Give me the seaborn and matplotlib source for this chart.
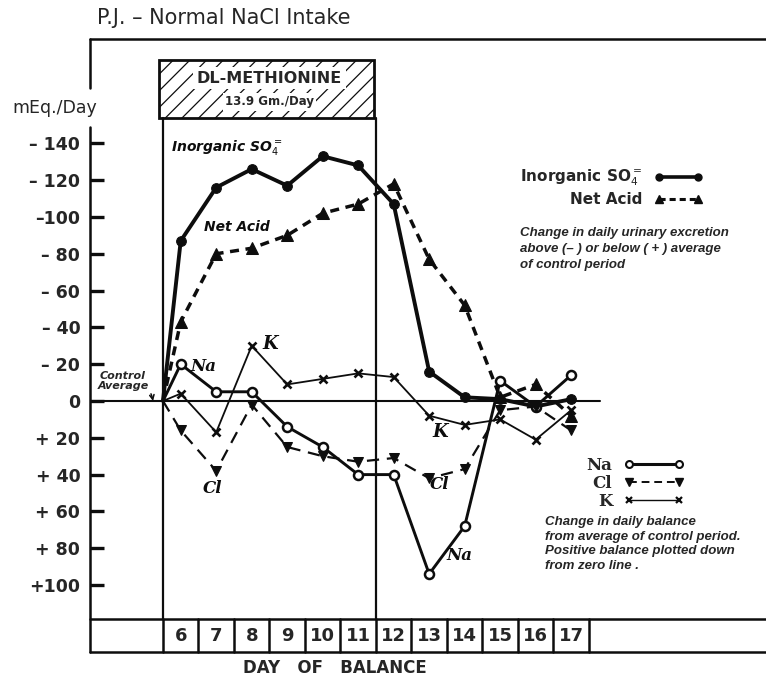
"""Recreation of the 'P.J. - Normal NaCl Intake' methionine balance chart."""

import matplotlib
matplotlib.use("Agg")
import matplotlib.pyplot as plt
import seaborn as sns
from matplotlib.lines import Line2D
from matplotlib.patches import Rectangle

# day 5.5 is the control-average starting point (left edge of day 6)
days = [5.5, 6, 7, 8, 9, 10, 11, 12, 13, 14, 15, 16, 17]
table_days = [6, 7, 8, 9, 10, 11, 12, 13, 14, 15, 16, 17]

# urinary excretion change: negative = above control average (plotted up)
so4 = [0, -87, -116, -126, -117, -133, -128, -107, -16, -2, -1, 3, -1]
net_acid = [0, -43, -80, -83, -90, -102, -107, -118, -77, -52, -2, -9, 8]

# balance change: positive balance plotted down
na = [0, -20, -5, -5, 14, 25, 40, 40, 94, 68, -11, 3, -14]
cl = [0, 16, 38, 2, 25, 30, 33, 31, 42, 37, 5, 3, 16]
k = [0, -4, 17, -30, -9, -12, -15, -13, 8, 13, 10, 21, 5]

ytick_vals = [-140, -120, -100, -80, -60, -40, -20, 0, 20, 40, 60, 80, 100]
ytick_labels = ["\u2013 140", "\u2013 120", "\u2013100", "\u2013 80", "\u2013 60",
                "\u2013 40", "\u2013 20", "0", "+ 20", "+ 40", "+ 60", "+ 80", "+100"]

XMIN, XMAX = 3.444, 22.49
YTOP, YBOT = -196.7, 136.4
TABLE_TOP = 118.5
DRUG_START, DRUG_END = 5.5, 11.5
BOX_TOP, BOX_BOT = -185.3, -153.8

sns.set_style("white")
plt.rcParams["font.family"] = ["DejaVu Sans"]
plt.rcParams["hatch.linewidth"] = 0.9

fig = plt.figure(figsize=(7.66, 6.79), dpi=100)
ax = fig.add_axes([90 / 766, 1 - 652 / 679, 676 / 766, 613 / 679])
ax.set_xlim(XMIN, XMAX)
ax.set_ylim(YBOT, YTOP)
for s in ax.spines.values():
    s.set_visible(False)

BLACK = "#0d0d0d"
skip_origin = list(range(1, len(days)))

# --- series ---
sns.lineplot(x=days, y=so4, ax=ax, color=BLACK, lw=2.8, marker="o", ms=7,
             markeredgecolor=BLACK, markevery=skip_origin)
sns.lineplot(x=days, y=net_acid, ax=ax, color=BLACK, lw=2.5, ls=(0, (2.6, 1.9)),
             marker="^", ms=8, markeredgecolor=BLACK, markevery=skip_origin)
sns.lineplot(x=days, y=na, ax=ax, color=BLACK, lw=2.1, marker="o", ms=6.5,
             markerfacecolor="white", markeredgecolor=BLACK, markeredgewidth=1.8,
             markevery=skip_origin)
sns.lineplot(x=days, y=cl, ax=ax, color=BLACK, lw=1.6, ls=(0, (5.5, 3.5)),
             marker="v", ms=7, markeredgecolor=BLACK, markevery=skip_origin)
sns.lineplot(x=days, y=k, ax=ax, color=BLACK, lw=1.3, marker="x", ms=6,
             markeredgecolor=BLACK, markeredgewidth=1.9, markevery=skip_origin)
ax.set_xlabel("")
ax.set_ylabel("")

# --- frame ---
line_kw = dict(color=BLACK, lw=1.8, clip_on=False)
ax.plot([XMIN, XMAX], [YTOP, YTOP], **line_kw)
ax.plot([XMIN, XMIN], [YTOP, -170], **line_kw)
ax.plot([XMIN, XMIN], [-149, YBOT], **line_kw)
ax.plot([XMIN, 17.8], [0, 0], color=BLACK, lw=1.5)

# table row of days
ax.plot([XMIN, XMAX], [TABLE_TOP, TABLE_TOP], **line_kw)
ax.plot([XMIN, XMAX], [YBOT, YBOT], **line_kw)
for d in table_days:
    ax.plot([d - 0.5, d - 0.5], [TABLE_TOP, YBOT], **line_kw)
    ax.text(d, (TABLE_TOP + YBOT) / 2, str(d), ha="center", va="center",
            fontsize=13, weight="semibold")
ax.plot([table_days[-1] + 0.5] * 2, [TABLE_TOP, YBOT], **line_kw)

# methionine period
ax.plot([DRUG_START, DRUG_START], [BOX_BOT, TABLE_TOP], color=BLACK, lw=1.6)
ax.plot([DRUG_END, DRUG_END], [BOX_BOT, TABLE_TOP], color=BLACK, lw=1.6)
ax.add_patch(Rectangle((DRUG_START - 0.1, BOX_TOP), DRUG_END - DRUG_START + 0.05,
                       BOX_BOT - BOX_TOP, facecolor="white", edgecolor=BLACK,
                       hatch="//", lw=2))
mid = (DRUG_START + DRUG_END) / 2
ax.text(mid, -175.5, "DL-METHIONINE", ha="center", va="center", fontsize=11.5,
        weight="bold", bbox=dict(fc="white", ec="none", pad=2.5))
ax.text(mid, -162.5, "13.9 Gm./Day", ha="center", va="center", fontsize=8.5,
        weight="bold", bbox=dict(fc="white", ec="none", pad=1.5))

# --- y ticks ---
ax.set_yticks(ytick_vals)
ax.set_yticklabels(ytick_labels, weight="bold")
ax.tick_params(axis="y", direction="in", length=10, width=2.4, pad=7,
               labelsize=12.5, left=True, color=BLACK)
ax.set_xticks([])

# --- titles ---
fig.text(97 / 766, 1 - 18 / 679, "P.J. \u2013 Normal NaCl Intake", fontsize=15,
         va="center", ha="left")
fig.text(12 / 766, 1 - 108 / 679, "mEq./Day", fontsize=12.5, va="center", ha="left")
fig.text(335 / 766, 1 - 668 / 679, "DAY   OF   BALANCE", fontsize=12, weight="bold",
         va="center", ha="center")

# --- in-plot labels ---
lab = dict(ha="center", va="center", style="italic", weight="bold", color=BLACK)
ax.text(7.30, -137.5, "Inorganic SO$_4^{=}$", fontsize=10, **lab)
ax.text(7.58, -94.6, "Net Acid", fontsize=10, **lab)
ser = dict(ha="center", va="center", style="italic", weight="bold", color=BLACK,
           family=["DejaVu Serif"])
ax.text(6.63, -18.5, "Na", fontsize=12, **ser)
ax.text(8.51, -31, "K", fontsize=13, **ser)
ax.text(6.91, 47.8, "Cl", fontsize=12, **ser)
ax.text(13.30, 16.8, "K", fontsize=13, **ser)
ax.text(13.30, 45.6, "Cl", fontsize=12, **ser)
ax.text(13.84, 83.7, "Na", fontsize=12, **ser)
ax.annotate("Control\nAverage", xy=(5.22, 0), xytext=(4.37, -11),
            ha="center", va="center", style="italic", weight="bold", fontsize=8,
            linespacing=0.95,
            arrowprops=dict(arrowstyle="->", color=BLACK, lw=1.1,
                            connectionstyle="arc3,rad=-0.5",
                            shrinkA=0, shrinkB=0))

# --- legends ---
h1 = [Line2D([], [], color=BLACK, lw=2.6, marker="o", ms=5),
      Line2D([], [], color=BLACK, lw=2.2, ls=(0, (2, 1.3)), marker="^", ms=5.5)]
leg1 = ax.legend(h1, ["Inorganic SO$_4^{=}$", "Net Acid"], loc="upper right",
                 bbox_to_anchor=(703 / 766, 1 - 168 / 679),
                 bbox_transform=fig.transFigure, frameon=False, numpoints=2,
                 markerfirst=False, handlelength=3.2, handletextpad=0.8,
                 labelspacing=0.25, borderpad=0, borderaxespad=0,
                 prop=dict(size=11, weight="bold"))
ax.add_artist(leg1)

h2 = [Line2D([], [], color=BLACK, lw=2.2, marker="o", ms=5, mfc="white", mew=1.5),
      Line2D([], [], color=BLACK, lw=1.4, ls=(0, (4, 2.5)), marker="v", ms=5.5),
      Line2D([], [], color=BLACK, lw=1.0, marker="x", ms=5, mew=1.6)]
ax.legend(h2, ["Na", "Cl", "K"], loc="upper right",
          bbox_to_anchor=(684 / 766, 1 - 457 / 679),
          bbox_transform=fig.transFigure, frameon=False, numpoints=2,
          markerfirst=False, handlelength=3.6, handletextpad=0.7,
          labelspacing=0.05, borderpad=0, borderaxespad=0,
          prop=dict(size=12, weight="bold", family="DejaVu Serif"))

note = dict(ha="left", va="top", style="italic", weight="bold", fontsize=9.5,
            family=["Liberation Sans Narrow", "Liberation Sans"])
fig.text(520 / 766, 1 - 227 / 679,
         "Change in daily urinary excretion\nabove (\u2013 ) or below ( + ) average\n"
         "of control period", linespacing=1.45, **note)
fig.text(545 / 766, 1 - 516 / 679,
         "Change in daily balance\nfrom average of control period.\n"
         "Positive balance plotted down\nfrom zero line .", linespacing=1.3, **note)

fig.savefig("out.png", dpi=100)
